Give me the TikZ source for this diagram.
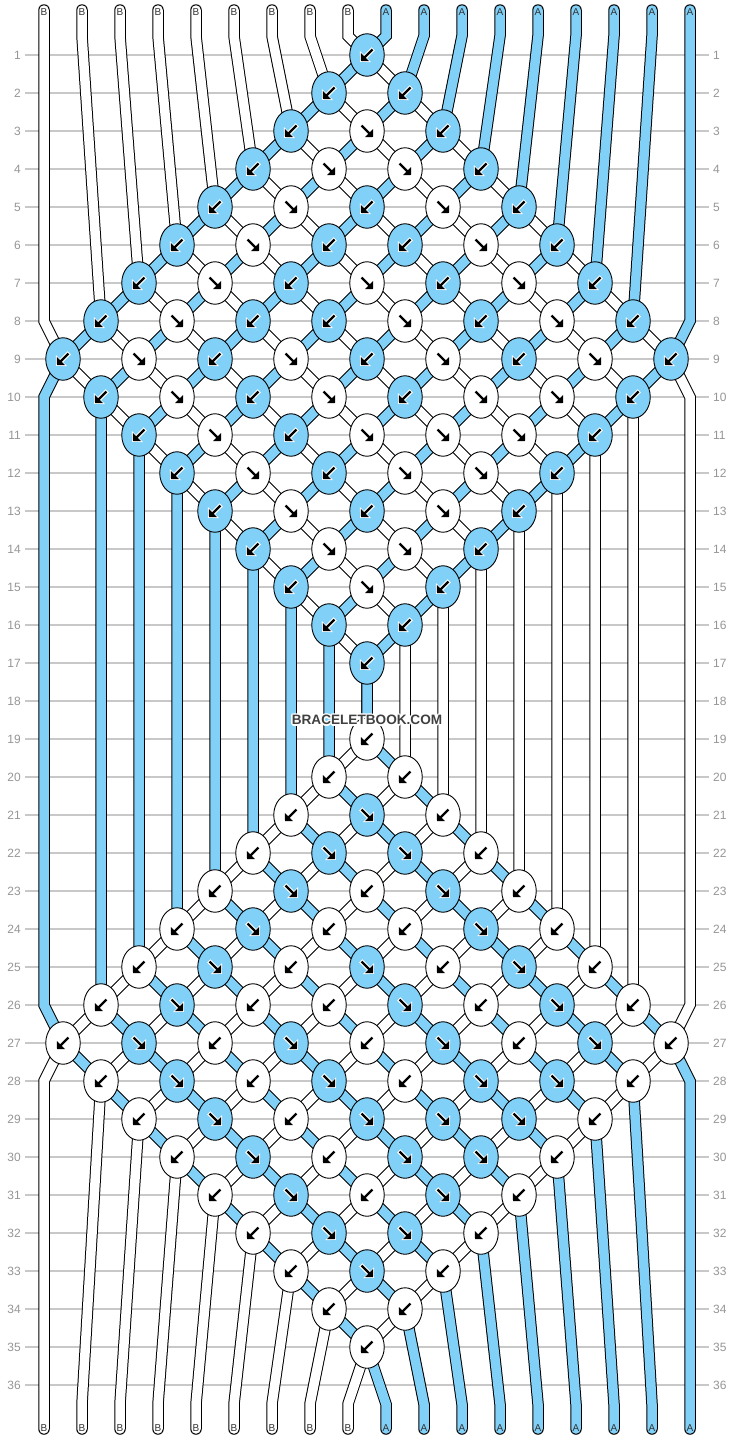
\documentclass[tikz,border=0pt]{standalone}
\usepackage{fontspec}
\setmainfont{Liberation Sans}
\usetikzlibrary{shapes.geometric,arrows.meta}
\definecolor{strandblue}{RGB}{128,208,248}
\definecolor{gridgray}{RGB}{200,200,200}
\definecolor{numgray}{RGB}{150,150,150}
\definecolor{markgray}{RGB}{64,64,64}
\pgfdeclarelayer{grid}
\pgfdeclarelayer{strings}
\pgfsetlayers{grid,strings,main}
\tikzset{
  knot/.style={ellipse, draw=black, line width=0.9pt, minimum width=34.5pt, minimum height=42.5pt, inner sep=0pt},
  topB/.style={knot, fill=strandblue},
  topF/.style={knot, fill=white},
  botB/.style={knot, fill=white},
  botF/.style={knot, fill=strandblue},
  knotarrow/.style={line width=2.3pt, -{Triangle[length=5.5pt,width=11pt]}},
  haloarrow/.style={knotarrow, preaction={draw=white, line width=4.6pt, shorten >=-1.3pt, shorten <=-1pt, -{Triangle[length=7.5pt,width=15pt]}}},
  atopB/.style={haloarrow}, atopF/.style={knotarrow},
  abotB/.style={knotarrow}, abotF/.style={haloarrow},
  dirB/.style={insert path={++(5.5,-5.5) -- ++(-11.5,11.5)}},
  dirF/.style={insert path={++(-5.5,-5.5) -- ++(11.5,11.5)}},
  strand/.style={draw=black, line width=1pt, double distance=9.5pt, line cap=round},
  strandA/.style={strand, double=strandblue},
  strandB/.style={strand, double=white},
  gridline/.style={draw=gridgray, line width=1.3pt},
  rownum/.style={font=\fontsize{12}{12}\selectfont, text=numgray, inner sep=0pt},
  endlabel/.style={font=\fontsize{10}{10}\selectfont, text=black!80, inner sep=0pt},
  brand/.style={font=\bfseries\fontsize{13.6}{14}\selectfont, inner sep=0pt}
}
\begin{document}
\begin{tikzpicture}[x=1pt,y=-1pt]
  \begin{pgfonlayer}{grid}
    \fill[white] (0,0) rectangle (734,1440);
  \end{pgfonlayer}
  \useasboundingbox (0,0) rectangle (734,1440);

  % Row numbers and grid
  \foreach \r in {1,...,36}
  {
    \node[rownum, anchor=east] (rowL-\r) at (21,{17+38*\r}) {\r};
    \node[rownum, anchor=west] (rowR-\r) at (713,{17+38*\r}) {\r};
    \begin{pgfonlayer}{grid}
      \draw[gridline] (25,{17+38*\r}) -- (709,{17+38*\r});
    \end{pgfonlayer}
  };

  % Knots: the same pattern in both diamonds, colours swapped
  \foreach \R/\knotlist in {
      1/{8/B},
      2/{7/B,9/B},
      3/{6/B,8/F,10/B},
      4/{5/B,7/F,9/F,11/B},
      5/{4/B,6/F,8/B,10/F,12/B},
      6/{3/B,5/F,7/B,9/B,11/F,13/B},
      7/{2/B,4/F,6/B,8/F,10/B,12/F,14/B},
      8/{1/B,3/F,5/B,7/B,9/F,11/B,13/F,15/B},
      9/{0/B,2/F,4/B,6/F,8/B,10/F,12/B,14/F,16/B},
      10/{1/B,3/F,5/B,7/F,9/B,11/F,13/F,15/B},
      11/{2/B,4/F,6/B,8/F,10/F,12/F,14/B},
      12/{3/B,5/F,7/B,9/F,11/F,13/B},
      13/{4/B,6/F,8/B,10/F,12/B},
      14/{5/B,7/F,9/F,11/B},
      15/{6/B,8/F,10/B},
      16/{7/B,9/B},
      17/{8/B}}
  {
    \pgfmathtruncatemacro\Rb{\R+18}
    \foreach \j/\d in \knotlist
    {
      \node[top\d] (k-\R-\j) at ({63+38*\j},{17+38*\R}) {};
      \draw[atop\d] (k-\R-\j.center) [dir\d];
      \node[bot\d] (k-\Rb-\j) at ({63+38*\j},{17+38*\Rb}) {};
      \draw[abot\d] (k-\Rb-\j.center) [dir\d];
    };
  };

  \begin{pgfonlayer}{strings}
    % B strings
    \foreach \k in {0,...,8}
    {
      \pgfmathsetmacro\xs{44+38*\k}
      \pgfmathsetmacro\ya{36+285*(\k==0)}
      \pgfmathsetmacro\xm{367+38*\k+19*(\k==8)}
      \pgfmathsetmacro\ym{17+38*(18-\k)-5*(\k<8)}
      \pgfmathsetmacro\yn{17+38*(18+\k)+5*(\k<8)}
      \pgfmathsetmacro\yz{1404-323*(\k==0)}
      \draw[strandB] (\xs,10) -- (\xs,\ya)
        \foreach \m [evaluate=\m as \ro using int(9-\k+\m), evaluate=\m as \jo using int(\k+\m)] in {0,...,8} { -- (k-\ro-\jo.center) }
        -- (\xm,\ym) -- (\xm,\yn)
        \foreach \m [evaluate=\m as \ro using int(19+\k+\m), evaluate=\m as \jo using int(\k+8-\m)] in {0,...,8} { -- (k-\ro-\jo.center) }
        -- (\xs,\yz) -- (\xs,1429);
    };
    % A strings
    \foreach \t in {0,...,8}
    {
      \pgfmathsetmacro\xs{386+38*\t}
      \pgfmathsetmacro\ya{36+285*(\t==8)}
      \pgfmathsetmacro\xm{63+38*\t-19*(\t==0)}
      \pgfmathsetmacro\ym{17+38*(10+\t)-5*(\t>0)}
      \pgfmathsetmacro\yn{17+38*(26-\t)+5*(\t>0)}
      \pgfmathsetmacro\yz{1404-323*(\t==8)}
      \draw[strandA] (\xs,10) -- (\xs,\ya)
        \foreach \m [evaluate=\m as \ro using int(1+\t+\m), evaluate=\m as \jo using int(\t+8-\m)] in {0,...,8} { -- (k-\ro-\jo.center) }
        -- (\xm,\ym) -- (\xm,\yn)
        \foreach \m [evaluate=\m as \ro using int(27-\t+\m), evaluate=\m as \jo using int(\t+\m)] in {0,...,8} { -- (k-\ro-\jo.center) }
        -- (\xs,\yz) -- (\xs,1429);
    };
  \end{pgfonlayer}

  % String ends
  \foreach \i in {0,...,8}
  {
    \node[endlabel] (endB-top-\i) at ({44+38*\i},12) {B};
    \node[endlabel] (endB-bot-\i) at ({44+38*\i},1428) {B};
  };
  \foreach \i in {9,...,17}
  {
    \node[endlabel] (endA-top-\i) at ({44+38*\i},12) {A};
    \node[endlabel] (endA-bot-\i) at ({44+38*\i},1428) {A};
  };

  % Watermark
  \foreach \a in {0,45,...,315}
  {
    \node[brand, text=white] (brandhalo-\a) at ([shift={(\a:1.4)}]367,720) {BRACELETBOOK.COM};
  };
  \node[brand, text=markgray] (brandmark) at (367,720) {BRACELETBOOK.COM};
\end{tikzpicture}
\end{document}
